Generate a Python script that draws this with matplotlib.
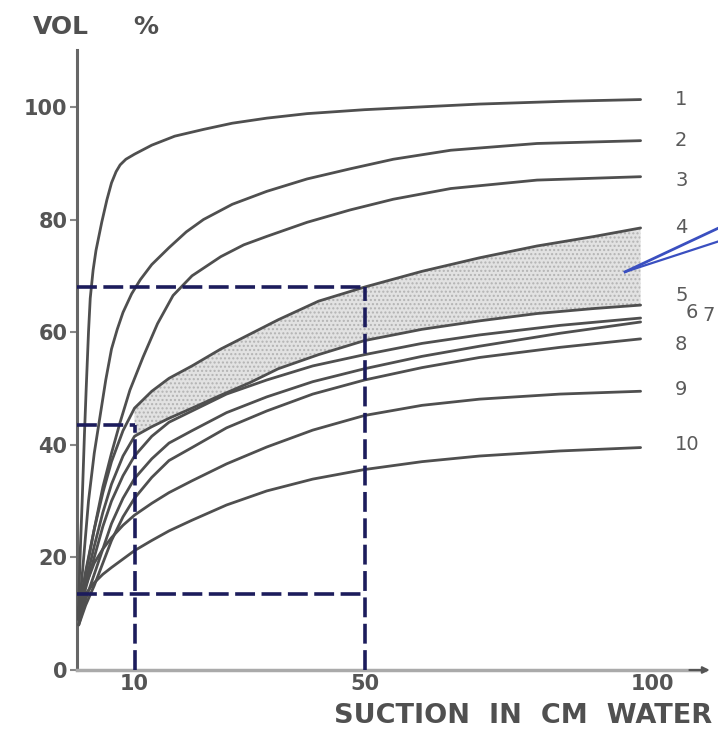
import matplotlib
matplotlib.use("Agg")
import matplotlib.pyplot as plt

# ---- data ----
c1_x = [0.2, 0.6, 0.9, 1.3, 1.6, 2.0, 2.3, 2.8, 3.3, 4.3, 5.2, 6.0, 6.8, 7.5,
        8.5, 10, 13, 17, 22, 27, 33, 40, 50, 60, 70, 85, 98]
c1_y = [9, 22, 30, 42, 50, 60, 66, 71, 74.5, 79.5, 83.5, 86.5, 88.5, 89.7,
        90.7, 91.6, 93.2, 94.8, 96, 97.1, 98, 98.8, 99.5, 100, 100.5, 101, 101.3]

c2_x = [0.3, 1, 2, 3, 4, 5, 6, 7, 8, 9.5, 11, 13, 16, 19, 22, 27, 33, 40,
        47.5, 55, 65, 80, 98]
c2_y = [10, 18, 30, 38.5, 45, 51.5, 57, 60.5, 63.5, 66.8, 69.3, 72, 75, 77.8,
        80, 82.7, 85, 87.2, 89, 90.7, 92.3, 93.5, 94]

c3_x = [0.3, 1.5, 3, 4.5, 6, 7.5, 9.2, 11.5, 14, 16.7, 20, 25, 29, 33, 40,
        47.5, 55, 65, 80, 98]
c3_y = [10, 17, 25, 32.5, 38.5, 44, 49.7, 55.6, 61.5, 66.5, 70, 73.4, 75.5,
        77, 79.5, 81.7, 83.6, 85.5, 87, 87.6]

band_x = [0.3, 1.5, 3, 4.5, 6, 8, 10, 13, 16, 20, 25, 30, 35, 42, 50, 60, 70,
          80, 90, 98]
c4_y = [10, 17.5, 25, 31.5, 37, 42.5, 46.5, 49.5, 51.8, 54, 57, 59.6, 62.2,
        65.5, 68, 70.8, 73.2, 75.3, 77, 78.5]
c5_y = [9, 15.5, 22, 28, 33, 38, 41.5, 43.2, 44.7, 46.5, 48.8, 51, 53.5, 56,
        58.5, 60.5, 62, 63.3, 64.2, 64.8]

low_x = [0.3, 1.5, 3, 4.5, 6, 8, 10, 13, 16, 20, 26, 33, 41, 50, 60, 70, 84, 98]
c6_y = [9, 14.5, 20, 25.5, 30, 34.5, 38, 41.5, 44, 46, 49, 51.5, 54, 56, 58,
        59.5, 61.2, 62.5]
c7_y = [8, 12.5, 17, 21.5, 26, 30.5, 34, 37.5, 40.3, 42.5, 45.7, 48.5, 51.2,
        53.5, 55.7, 57.5, 59.8, 61.8]
c8_y = [8, 11.5, 15, 19, 23, 27.2, 30.5, 34.2, 37.2, 39.5, 43, 46, 49, 51.5,
        53.7, 55.5, 57.3, 58.8]
c9_y = [10, 15, 19, 21.5, 23.5, 25.7, 27.5, 29.6, 31.5, 33.6, 36.6, 39.6, 42.6,
        45.2, 47, 48.1, 49, 49.5]
c10_y = [10, 13.5, 15.5, 17, 18.2, 19.7, 21.2, 23, 24.7, 26.6, 29.3, 31.8, 33.9,
         35.6, 37, 38, 38.9, 39.5]

curve_labels = ["1", "2", "3", "4", "5", "6", "7", "8", "9", "10"]
label_pos = [(104.0, 101.3), (104.0, 94.0), (104.0, 87.0), (104.0, 78.5),
             (104.0, 66.5), (105.8, 63.4), (108.7, 62.9), (104.0, 57.8),
             (104.0, 49.8), (104.0, 40.0)]

y_ticks = [0, 20, 40, 60, 80, 100]
x_ticks = [10, 50, 100]

# guide (dashed) lines
g_x1, g_x2 = 10, 50
g_top, g_mid, g_low = 68, 43.5, 13.5

# ---- drawing ----
fig = plt.figure(figsize=(7.18, 7.39), dpi=100)
ax = fig.add_axes([77/718, 69/739, 628/718, 620/739])
ax.set_xlim(0, 109.2)
ax.set_ylim(0, 110.1)

grey = "#4f4f4f"
# shaded band
ax.fill_between(band_x[6:], c4_y[6:], c5_y[6:], facecolor="#e2e2e2",
                edgecolor="#b3b3b3", hatch="....", linewidth=0, zorder=1)

lw = 2.0
for xs, ys in [(c1_x, c1_y), (c2_x, c2_y), (c3_x, c3_y),
               (band_x, c4_y), (band_x, c5_y),
               (low_x, c6_y), (low_x, c7_y), (low_x, c8_y),
               (low_x, c9_y), (low_x, c10_y)]:
    ax.plot(xs, ys, color=grey, lw=lw, solid_capstyle="round",
            solid_joinstyle="round", zorder=3)

# dashed guide lines
dcol = "#1c1c5c"
dstyle = dict(color=dcol, lw=2.6, linestyle=(0, (5.5, 1.8)), zorder=4)
ax.plot([0, g_x2], [g_top, g_top], **dstyle)
ax.plot([g_x2, g_x2], [0, g_top], **dstyle)
ax.plot([0, g_x1], [g_mid, g_mid], **dstyle)
ax.plot([g_x1, g_x1], [0, g_mid], **dstyle)
ax.plot([0, g_x2], [g_low, g_low], **dstyle)

# blue arrow pointing into band
acol = "#3a4fc0"
ax.plot([95.3, 111.8], [70.7, 78.6], color=acol, lw=2, clip_on=False, zorder=5)
ax.plot([95.3, 111.8], [70.7, 76.2], color=acol, lw=1.6, clip_on=False, zorder=5)

# curve labels
for lab, (lx, ly) in zip(curve_labels, label_pos):
    ax.text(lx, ly, lab, fontsize=14, color="#5a5a5a", ha="left", va="center",
            clip_on=False)

# spines / ticks
for s in ["top", "right"]:
    ax.spines[s].set_visible(False)
ax.spines["left"].set_color("#666666")
ax.spines["left"].set_linewidth(2.2)
ax.spines["bottom"].set_color("#aaaaaa")
ax.spines["bottom"].set_linewidth(2.5)
ax.set_yticks(y_ticks)
ax.set_yticklabels([str(v) for v in y_ticks])
ax.set_xticks(x_ticks)
ax.set_xticklabels([str(v) for v in x_ticks])
ax.tick_params(axis="y", length=5, width=1.5, color="#888888", labelsize=15,
               labelcolor="#555555", pad=2)
ax.tick_params(axis="x", length=0, labelsize=15, labelcolor="#555555", pad=3)
for t in ax.get_yticklabels() + ax.get_xticklabels():
    t.set_fontweight("bold")

# axis arrow
ax.annotate("", xy=(110.5, 0), xytext=(106, 0),
            arrowprops=dict(arrowstyle="-|>", color="#555555", lw=1.5,
                            mutation_scale=10),
            annotation_clip=False)

fig.text(33/718, 1 - 27/739, "VOL", fontsize=18, color="#505050",
         fontweight="bold", ha="left", va="center")
fig.text(133/718, 1 - 27/739, "%", fontsize=18, color="#505050",
         fontweight="bold", ha="left", va="center")
fig.text(712/718, 1 - 716/739, "SUCTION  IN  CM  WATER", fontsize=19.5,
         color="#505050", fontweight="bold", ha="right", va="center")

fig.savefig("out.png", dpi=100)
